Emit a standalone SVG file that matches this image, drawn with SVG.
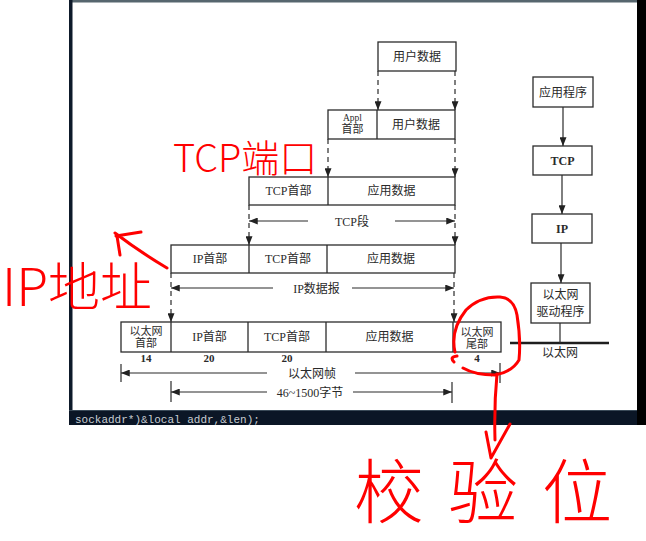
<svg xmlns="http://www.w3.org/2000/svg" width="646" height="541" viewBox="0 0 646 541">
  <defs>
    <marker id="ah" viewBox="0 0 10 8" refX="10" refY="4" markerWidth="9" markerHeight="7" orient="auto-start-reverse" markerUnits="userSpaceOnUse">
      <path d="M0,0 L10,4 L0,8 z" fill="#222"/>
    </marker>
  </defs>
  <style>
    .box{fill:#fff;stroke:#2b2b2b;stroke-width:1.3}
    .div{stroke:#2b2b2b;stroke-width:1.3}
    .t{font-family:"Liberation Serif","Noto Sans CJK SC",serif;font-size:12px;fill:#2a2a2a;text-anchor:middle}
    .s{font-size:11px}
    .xs{font-size:9.5px}
    .b{font-weight:bold}
    .dash{stroke:#2b2b2b;stroke-width:1.2;stroke-dasharray:5 4;fill:none}
    .ln{stroke:#2b2b2b;stroke-width:1.2;fill:none}
    .red{fill:none;stroke:#f00;stroke-width:3;stroke-linecap:round;stroke-linejoin:round}
    .hw{font-family:"Noto Sans CJK SC",sans-serif;fill:#f00;font-weight:300}
  </style>

  <!-- page and surrounding window frame -->
  <rect x="0" y="0" width="646" height="541" fill="#fff"/>
  <rect x="69" y="0" width="568" height="2.5" fill="#56666e"/>
  <rect x="69" y="0" width="3.5" height="412" fill="#0e1a2a"/>
  <rect x="637" y="0" width="9" height="425" fill="#000"/>
  <rect x="69" y="410" width="568" height="15" fill="#0b1626"/>
  <rect x="69" y="410" width="568" height="1" fill="#3a4a58"/>
  <text x="75" y="422.5" font-family="Liberation Mono, monospace" font-size="11" fill="#c8cdd2">sockaddr*)&amp;local addr,&amp;len);</text>

  <!-- encapsulation rows -->
  <g id="user-data">
    <rect class="box" x="378" y="42" width="78" height="29"/>
    <text class="t" x="417" y="61">用户数据</text>
  </g>

  <g id="appl-row">
    <rect class="box" x="328" y="110" width="127" height="29"/>
    <line class="div" x1="377" y1="110" x2="377" y2="139"/>
    <text class="t xs" x="352.5" y="121">Appl</text>
    <text class="t s" x="352.5" y="133">首部</text>
    <text class="t" x="416" y="129">用户数据</text>
  </g>

  <g id="tcp-segment">
    <rect class="box" x="249" y="177" width="206" height="28"/>
    <line class="div" x1="328" y1="177" x2="328" y2="205"/>
    <text class="t" x="288.5" y="195">TCP首部</text>
    <text class="t" x="391.5" y="195">应用数据</text>
  </g>

  <g id="ip-datagram">
    <rect class="box" x="171" y="245" width="284" height="28"/>
    <line class="div" x1="249" y1="245" x2="249" y2="273"/>
    <line class="div" x1="327" y1="245" x2="327" y2="273"/>
    <text class="t" x="210" y="263">IP首部</text>
    <text class="t" x="288" y="263">TCP首部</text>
    <text class="t" x="391" y="263">应用数据</text>
  </g>

  <g id="ethernet-frame">
    <rect class="box" x="121" y="322" width="380" height="30"/>
    <line class="div" x1="171" y1="322" x2="171" y2="352"/>
    <line class="div" x1="248" y1="322" x2="248" y2="352"/>
    <line class="div" x1="326" y1="322" x2="326" y2="352"/>
    <line class="div" x1="453" y1="322" x2="453" y2="352"/>
    <text class="t s" x="146" y="335">以太网</text>
    <text class="t s" x="146" y="347">首部</text>
    <text class="t" x="209.5" y="341">IP首部</text>
    <text class="t" x="287" y="341">TCP首部</text>
    <text class="t" x="389.5" y="341">应用数据</text>
    <text class="t s" x="477" y="336">以太网</text>
    <text class="t s" x="477" y="348">尾部</text>
    <text class="t s b" x="146" y="362">14</text>
    <text class="t s b" x="209" y="362">20</text>
    <text class="t s b" x="287" y="362">20</text>
    <text class="t s b" x="477" y="362">4</text>
  </g>

  <!-- span labels -->
  <g id="span-labels">
    <text class="t" x="352" y="225.5">TCP段</text>
    <text class="t" x="316.5" y="292.5">IP数据报</text>
    <text class="t" x="312" y="377.5">以太网帧</text>
    <text class="t" x="310" y="396.5">46~1500字节</text>
  </g>

  <!-- protocol stack -->
  <g id="app">
    <rect class="box" x="533" y="77" width="60" height="30"/>
    <text class="t" x="563" y="96.5">应用程序</text>
  </g>
  <g id="tcp">
    <rect class="box" x="533" y="146" width="59" height="29"/>
    <text class="t b" x="562.5" y="165">TCP</text>
  </g>
  <g id="ip">
    <rect class="box" x="532" y="214" width="60" height="29"/>
    <text class="t b" x="562" y="233">IP</text>
  </g>
  <g id="eth-driver">
    <rect class="box" x="531" y="283" width="59" height="40"/>
    <text class="t" x="560.5" y="299">以太网</text>
    <text class="t" x="560.5" y="316">驱动程序</text>
  </g>
  <g id="ethernet">
    <line x1="510" y1="343" x2="609" y2="343" stroke="#1e1e1e" stroke-width="2.6"/>
    <text class="t" x="560" y="357">以太网</text>
  </g>

  <g id="connectors">
    <!-- encapsulation drops -->
    <line class="dash" x1="378" y1="71" x2="378" y2="110" marker-end="url(#ah)"/>
    <line class="dash" x1="455" y1="71" x2="455" y2="110" marker-end="url(#ah)"/>
    <line class="dash" x1="328" y1="139" x2="328" y2="177" marker-end="url(#ah)"/>
    <line class="dash" x1="455" y1="139" x2="455" y2="177" marker-end="url(#ah)"/>
    <line class="dash" x1="249" y1="205" x2="249" y2="245" marker-end="url(#ah)"/>
    <line class="dash" x1="455" y1="205" x2="455" y2="245" marker-end="url(#ah)"/>
    <line class="dash" x1="171" y1="273" x2="171" y2="322" marker-end="url(#ah)"/>
    <line class="dash" x1="454" y1="273" x2="454" y2="322" marker-end="url(#ah)"/>

    <!-- span arrows -->
    <line class="ln" x1="249" y1="221" x2="308" y2="221" marker-start="url(#ah)"/>
    <line class="ln" x1="395" y1="221" x2="455" y2="221" marker-end="url(#ah)"/>
    <line class="ln" x1="171" y1="288" x2="273" y2="288" marker-start="url(#ah)"/>
    <line class="ln" x1="352" y1="288" x2="454" y2="288" marker-end="url(#ah)"/>

    <line class="ln" x1="121" y1="364" x2="121" y2="382"/>
    <line class="ln" x1="500" y1="363" x2="500" y2="383"/>
    <line class="ln" x1="121" y1="373" x2="267" y2="373" marker-start="url(#ah)"/>
    <line class="ln" x1="355" y1="373" x2="500" y2="373" marker-end="url(#ah)"/>

    <line class="ln" x1="171" y1="381" x2="171" y2="402"/>
    <line class="ln" x1="452" y1="382" x2="452" y2="403"/>
    <line class="ln" x1="171" y1="392" x2="267" y2="392" marker-start="url(#ah)"/>
    <line class="ln" x1="353" y1="392" x2="452" y2="392" marker-end="url(#ah)"/>

    <!-- stack arrows -->
    <line class="ln" x1="563" y1="107" x2="563" y2="146" marker-end="url(#ah)"/>
    <line class="ln" x1="562" y1="175" x2="562" y2="214" marker-end="url(#ah)"/>
    <line class="ln" x1="561" y1="243" x2="561" y2="283" marker-end="url(#ah)"/>
    <line class="ln" x1="560" y1="323" x2="560" y2="343"/>
  </g>

  <!-- red pen notes -->
  <g id="notes">
    <text class="hw" x="173" y="172" font-size="38">TCP端口</text>
    <text class="hw" x="2" y="306" font-size="52">IP地址</text>
    <path class="red" d="M167,268 Q140,252 115,233 M116,236 L141,232 M117,236 L120,255"/>
    <path class="red" d="M454,362 Q449,357 457,356 M455,352 Q450,330 466,310 Q480,296 500,297 Q514,298 517,315 Q521,340 519,360 Q512,372 495,375 Q475,375 463,368"/>
    <path class="red" d="M497,374 Q494,405 495,440 M486,432 L491,458 L510,424"/>
    <text class="hw" x="354" y="518" font-size="70" letter-spacing="24">校验位</text>
  </g>
</svg>
